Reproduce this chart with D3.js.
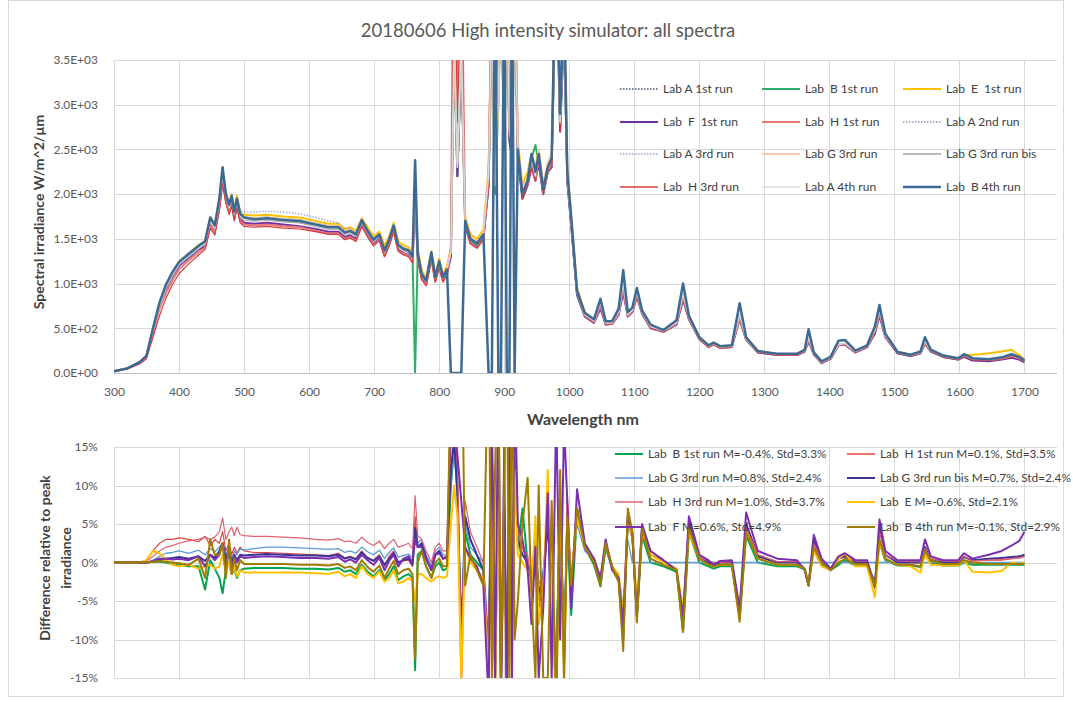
<!DOCTYPE html>
<html>
<head>
<meta charset="utf-8">
<script src="https://cdn.jsdelivr.net/npm/d3@7"></script>
<style>
  body { margin: 0; background: #fff; }
  text { font-family: Lato, "Open Sans", sans-serif; }
</style>
</head>
<body>
<div id="chart-container"></div>
<script>
// wavelength grid (nm), shared by every series
const wavelengths = [
  300,320,340,350,360,370,380,390,400,415,430,440,448,455,
  462,467,472,477,481,485,489,494,500,
  515,535,560,585,610,630,645,655,
  663,672,681,690,699,708,716,723,730,737,745,753,759,
  763,767,773,780,788,794,800,806,812,
  818,823,828,834,840,848,858,868,876,881,886,891,895,900,904,908,912,916,921,928,936,942,948,953,960,967,973,980,986,992,997,
  1003,1012,1024,1038,1048,1056,1066,1076,1083,1090,1097,1104,1112,1125,1145,1165,1175,1184,1200,1214,1222,1232,1250,
  1262,1272,1290,1320,1350,1362,1368,1376,1388,1402,1414,1424,1440,1458,1470,1477,1486,1505,1525,1540,1547,1556,1575,1598,1607,1620,1645,1665,1680,1692,1700
];

// spectral irradiance, W/m^2/um
const labA1st = [
  20,50,120,190,480,760,960,1100,1220,1310,1400,1450,1700,1620,
  1900,2230,1980,1850,1960,1780,1930,1760,1720,
  1710,1720,1700,1690,1650,1620,1620,1560,
  1580,1540,1700,1580,1480,1540,1360,1480,1640,1420,1380,1360,1290,
  2050,1330,1100,1020,1330,1060,1230,1060,1150,
  1350,3900,2300,3800,1700,1500,1450,1550,2200,4200,2100,3200,4500,2600,4200,2700,2500,4300,2500,2000,2150,2400,2200,2450,2050,2300,2400,4800,2800,4000,2200,
  1700,900,650,580,780,560,560,680,1000,650,700,900,680,520,470,560,880,620,390,300,330,290,300,
  650,380,240,210,210,250,390,220,120,170,320,330,240,300,480,700,420,230,200,230,350,250,190,160,200,160,150,170,210,180,140
];
const labB1st = [
  20,50,120,190,490,770,970,1110,1230,1320,1410,1460,1720,1630,
  1920,2250,2000,1870,1980,1800,1950,1780,1740,
  1730,1740,1720,1710,1670,1640,1640,1580,
  1600,1560,1710,1600,1500,1560,1380,1500,1650,1440,1400,1380,1300,
  0,1340,1110,1030,1340,1070,1240,1070,1160,
  1360,3600,2200,3500,1650,1480,1430,1520,2100,3800,2000,3000,4200,2500,3900,2600,2400,4000,2400,1950,2100,2400,2550,2350,2000,2250,2350,4500,2700,3800,2150,
  1650,880,640,570,770,550,550,670,980,640,690,880,670,510,460,550,860,610,380,290,320,280,290,
  630,370,230,200,200,240,380,210,110,160,310,320,230,290,470,690,410,220,190,220,340,240,180,150,190,150,140,160,200,170,130
];
const labE1st = [
  20,50,120,190,480,770,980,1120,1250,1340,1430,1480,1740,1660,
  1950,2250,2020,1900,2000,1830,1980,1800,1770,
  1760,1770,1750,1740,1700,1670,1670,1610,
  1630,1590,1730,1630,1530,1580,1420,1530,1680,1470,1430,1410,1340,
  2000,1400,1150,1060,1360,1100,1280,1100,1200,
  1400,3700,2400,3600,1750,1550,1500,1600,2300,4000,2200,3100,4300,2700,4000,2800,2600,4100,2600,2100,2250,2450,2300,2500,2100,2350,2450,4600,2900,3900,2300,
  1750,950,680,590,760,570,570,680,950,660,700,860,690,530,480,560,850,630,400,310,330,300,300,
  620,390,250,210,215,250,370,230,130,175,320,330,245,300,460,660,430,235,205,225,330,255,195,165,200,200,220,240,260,200,150
];
const labF1st = [
  20,50,115,185,470,740,940,1080,1200,1290,1380,1420,1660,1580,
  1850,2150,1930,1800,1900,1730,1880,1720,1680,
  1670,1680,1660,1640,1610,1580,1580,1520,
  1540,1500,1660,1540,1440,1500,1320,1440,1600,1380,1340,1320,1250,
  1950,1300,1060,990,1290,1030,1190,1030,1110,
  1300,3800,2200,3600,1650,1450,1400,1500,2100,4400,2200,4000,4800,2500,4500,2600,2400,4400,2400,1950,2100,2300,2150,2350,2000,2250,2300,4700,2700,3900,2150,
  1650,870,630,560,720,540,550,650,900,630,680,850,660,500,460,540,820,600,380,290,320,280,290,
  600,370,230,200,200,240,350,210,110,160,310,320,230,290,440,640,400,220,190,220,330,240,180,150,180,140,130,150,170,150,120
];
const labH1st = [
  20,50,110,180,450,720,900,1040,1160,1260,1350,1400,1650,1570,
  1850,2180,1930,1790,1900,1720,1870,1700,1660,
  1650,1660,1640,1630,1590,1560,1560,1500,
  1520,1480,1650,1530,1430,1490,1310,1430,1590,1370,1330,1310,1240,
  1950,1290,1050,980,1280,1020,1180,1020,1100,
  1400,6000,3000,5000,1700,1450,1400,1500,2150,4500,2200,3500,4800,2600,4500,2700,2500,4600,2500,2000,2100,2350,2150,2400,2000,2250,2350,5000,2800,4200,2200,
  1700,900,640,570,750,550,550,660,950,640,690,870,670,510,460,550,850,610,380,290,320,280,290,
  620,375,235,205,205,245,370,215,115,165,315,325,235,295,460,670,410,225,195,225,340,245,185,155,195,155,145,160,190,165,130
];
const labA2nd = [
  20,50,120,190,485,765,965,1105,1225,1315,1405,1455,1710,1630,
  1910,2240,1990,1860,1970,1790,1940,1770,1730,
  1730,1740,1720,1710,1670,1640,1640,1580,
  1600,1560,1710,1590,1490,1550,1370,1490,1640,1430,1390,1370,1300,
  2050,1340,1110,1030,1330,1070,1230,1070,1160,
  1350,3900,2300,3800,1700,1500,1450,1550,2200,4200,2100,3200,4500,2600,4200,2700,2500,4300,2500,2000,2150,2400,2200,2450,2050,2300,2400,4800,2800,4000,2200,
  1700,900,650,580,780,560,560,680,1000,650,700,900,680,520,470,560,880,620,390,300,330,290,300,
  650,380,240,210,210,250,390,220,120,170,320,330,240,300,480,700,420,230,200,230,350,250,190,160,200,160,150,170,210,180,140
];
const labA3rd = [
  20,50,125,195,490,780,990,1140,1260,1350,1430,1480,1720,1650,
  1920,2240,2000,1880,1990,1840,1960,1820,1800,
  1800,1810,1800,1780,1740,1700,1680,1610,
  1620,1570,1710,1600,1500,1550,1380,1490,1640,1430,1390,1370,1300,
  2050,1340,1110,1030,1330,1070,1230,1070,1160,
  1350,3900,2300,3800,1700,1500,1450,1550,2200,4200,2100,3200,4500,2600,4200,2700,2500,4300,2500,2000,2150,2400,2200,2450,2050,2300,2400,4800,2800,4000,2200,
  1700,900,650,580,780,560,560,680,1000,650,700,900,680,520,470,560,880,620,390,300,330,290,300,
  650,380,240,210,210,250,390,220,120,170,320,330,240,300,480,700,420,230,200,230,350,250,190,160,200,160,150,170,210,180,140
];
const labG3rd = [
  20,50,125,195,490,775,975,1120,1240,1330,1420,1470,1720,1640,
  1920,2250,2000,1870,1980,1800,1950,1780,1740,
  1730,1740,1720,1710,1670,1640,1640,1580,
  1600,1560,1720,1600,1500,1560,1380,1500,1660,1440,1400,1380,1310,
  2100,1350,1120,1040,1350,1080,1250,1080,1170,
  1370,3700,2350,3600,1720,1520,1470,1570,2250,4000,2150,3100,4300,2650,4000,2750,2550,4100,2550,2050,2200,2450,2250,2500,2100,2350,2450,4600,2850,3900,2250,
  1720,920,660,590,790,570,570,690,1010,660,710,910,690,530,480,570,890,630,395,305,335,295,305,
  650,380,240,210,210,250,390,220,120,170,320,330,240,300,480,700,420,230,200,230,350,250,190,160,200,160,150,170,210,180,140
];
const labG3rdBis = [
  20,50,115,185,475,750,950,1090,1210,1300,1390,1440,1690,1610,
  1890,2220,1970,1840,1950,1770,1920,1750,1710,
  1700,1710,1690,1680,1640,1610,1610,1550,
  1570,1530,1690,1570,1470,1530,1350,1470,1630,1410,1370,1350,1280,
  2000,1320,1090,1010,1320,1050,1220,1050,1140,
  1350,3900,2300,3800,1700,1500,1450,1550,2200,4200,2100,3200,4500,2600,4200,2700,2500,4300,2500,2000,2150,2400,2200,2450,2050,2300,2400,4800,2800,4000,2200,
  1700,900,650,580,780,560,560,680,1000,650,700,900,680,520,470,560,880,620,390,300,330,290,300,
  650,380,240,210,210,250,390,220,120,170,320,330,240,300,480,700,420,230,200,230,350,250,190,160,200,160,150,170,210,180,140
];
const labH3rd = [
  20,45,105,160,400,640,840,990,1110,1220,1320,1380,1620,1540,
  1820,2120,1900,1770,1870,1700,1850,1680,1640,
  1630,1640,1620,1610,1580,1550,1550,1490,
  1510,1470,1640,1520,1420,1480,1300,1420,1580,1360,1320,1300,1230,
  1950,1290,1050,980,1280,1020,1180,1020,1100,
  1350,5000,2800,4500,1650,1450,1400,1500,2100,4300,2100,3300,4600,2500,4300,2600,2450,4400,2450,1950,2100,2300,2150,2400,2000,2250,2300,4800,2700,4000,2150,
  1690,890,640,570,760,550,550,670,980,640,690,880,670,510,460,550,860,610,380,290,320,280,290,
  630,370,230,200,200,240,370,210,110,160,310,320,230,290,460,680,410,220,190,220,340,240,180,150,190,150,140,160,200,170,130
];
const labA4th = [
  20,50,120,190,480,760,960,1100,1220,1310,1400,1450,1700,1620,
  1900,2230,1980,1850,1960,1780,1930,1760,1720,
  1710,1720,1700,1690,1650,1620,1620,1560,
  1580,1540,1700,1580,1480,1540,1360,1480,1640,1420,1380,1360,1290,
  2050,1330,1100,1020,1330,1060,1230,1060,1150,
  1350,3900,2300,3800,1700,1500,1450,1550,2200,4200,2100,3200,4500,2600,4200,2700,2500,4300,2500,2000,2150,2400,2200,2450,2050,2300,2400,4800,2800,4000,2200,
  1700,900,650,580,780,560,560,680,1000,650,700,900,680,520,470,560,880,620,390,300,330,290,300,
  650,380,240,210,210,250,390,220,120,170,320,330,240,300,480,700,420,230,200,230,350,250,190,160,200,160,150,170,210,180,140
];
const labB4th = [
  20,50,125,195,500,790,990,1130,1240,1330,1420,1470,1740,1650,
  1950,2300,2000,1880,1980,1800,1950,1780,1740,
  1720,1730,1710,1700,1660,1630,1630,1570,
  1590,1550,1710,1590,1490,1550,1370,1490,1650,1430,1390,1370,1300,
  2380,1340,1110,1030,1350,1070,1250,1070,1160,
  0,0,0,0,1700,1500,1450,1550,0,0,4500,0,0,4500,0,0,4500,0,2500,2000,2150,2450,2250,2450,2050,2300,2400,5000,2900,4200,2250,
  1750,920,670,600,830,580,580,720,1150,680,730,950,700,540,480,590,1000,640,400,310,340,300,310,
  780,400,245,215,215,260,490,230,130,180,360,370,250,310,520,760,440,235,205,240,400,260,195,165,210,165,155,175,210,180,140
];

// difference relative to peak irradiance, %
const diffLabB1st = [
  0,0,0,0,0.1,0.1,0,-0.2,-0.3,-0.5,-0.5,-3.5,0.3,-0.8,
  -2,-4,-1,0,-1.5,-0.8,-2,-1,-0.8,
  -0.7,-0.7,-0.7,-0.8,-0.8,-0.9,-0.7,-1.2,
  -1,-1.5,-0.3,-1.2,-1.8,-1,-2.3,-1.5,-0.5,-2.3,-1.8,-1.5,-2,
  -14,1,1.5,-0.5,-2,-0.5,0,-1,-0.8,
  10,15,10,-10,4,1,0,-1,-14,12,-14,10,-14,6,-14,9,-7,14,2,7,0,-3,3,-5,-2,6,-3,-14,8,-12,5,
  -6.8,6.5,2,-0.3,-3.1,2,-0.8,-2.5,-10,5.5,3.5,-7,3.5,0,-0.5,-1.2,-9,4,0,-0.5,-0.8,-0.5,-0.5,
  -7,3.5,0,-0.5,-0.5,-0.9,-2.8,2,-0.3,-1,-0.3,0.3,-0.4,-0.4,-2.5,2.5,0.3,-0.4,-0.4,-0.6,1,0,-0.4,-0.4,0,-0.3,-0.3,-0.3,-0.3,-0.3,-0.3
];
const diffLabH1st = [
  0,0,0,0.3,1.5,2.5,3,3,3.2,3,2.7,3.4,2.2,3,
  2.5,4,1.5,2.5,1,2,1.2,2,1.5,
  1.3,1.3,1.2,1.1,1,0.9,1.2,0.6,
  0.8,0.5,1.5,0.5,0.3,1,-0.5,0.8,1.5,0,0.2,0.3,-0.5,
  6,2,2,0.5,-1,1,1.5,0.5,0.5,
  15,20,12,-18,6,3,1,-1,-16,18,-20,14,-18,8,-20,12,-10,18,3,2,0,-4,4,-6,-3,6,-4,-20,10,-16,8,
  -2.6,7,2,0.3,-2,2.5,-0.5,-2,-8,5.5,3.5,-6.5,4.5,1,0.2,-0.8,-7,5,0.8,0.2,0,0,0.1,
  -6.5,5,1,0.1,0.1,-0.8,-2.5,3,0.3,-0.8,0.5,1,0.2,0.2,-3,4.5,1,0.2,0.1,0.1,2,0.5,0.2,0.1,0.8,0.2,0.3,0.3,0.5,0.6,0.8
];
const diffLabG3rd = [
  0,0,0,0,0.3,0.8,1.2,1.3,1.5,1.2,1.6,1,1.8,1.4,
  2,2.5,1,2,0.5,1.5,1,1.8,1.6,
  1.8,2,2,1.9,1.8,1.7,1.8,1.3,
  1.5,1.2,2,1.4,1,1.6,0.5,1.3,1.9,0.7,0.9,1.1,0.6,
  4,2.5,3,1,-0.5,1.5,2,1,1,
  10,15,8,-8,5,2,1,0,-10,12,-12,10,-12,6,-12,8,-6,12,2,1,0,-2,3,-3,-1,4,-2,-12,7,-10,5,
  -2,5,1.5,0.3,-2,2,-0.5,-1.5,-6,3,0,0,0,0,0,0,0,0,0,0,0,0,0,
  0,0,0,0,0,0,0,0,0,0,0,0,0,0,0,0,0,0,0,0,0,0,0,0,0,0,0,0,0,0,0
];
const diffLabG3rdBis = [
  0,0,0,0,0.1,0.3,0.5,0.6,0.7,0.5,0.8,0.2,1,0.6,
  1.5,2.5,0.5,1.5,0,1,0.3,1,0.9,
  1,1.1,1,0.9,0.9,0.8,1,0.5,
  0.7,0.4,1.3,0.6,0.2,0.8,-0.3,0.5,1.2,0,0.3,0.5,-0.3,
  4.5,2,2.5,0.5,-1,1,1.5,0.5,0.8,
  12,16,9,-10,6,3,1,-1,-12,15,-15,12,-15,7,-15,10,-8,15,3,1,0,-3,3,-4,-2,5,-3,-15,8,-12,6,
  -3,7,2,0.3,-2.5,2.5,-0.5,-2,-8.5,5.5,3.5,-6.5,4.5,1,0.2,-1,-7.5,5,0.5,0,-0.3,0,0,
  -7,5,0.8,0,0,-0.8,-3,3,0.2,-0.8,0.5,0.8,0,0,-3.3,4.5,1,0,0,0,2,0.3,0,0,0.7,0.3,0.5,0.6,0.7,0.8,1
];
const diffLabH3rd = [
  0,0,0,0.2,0.8,1.5,2,2.2,2.5,2.8,3,3.3,3,3.3,
  4,5.8,3,4,4.6,3.5,4.6,3.6,3.5,
  3.4,3.4,3.3,3.2,3,2.9,3.1,2.7,
  2.8,2.5,3.3,2.6,2.2,2.8,1.8,2.5,3,2,2.2,2.5,1.8,
  8.7,3.5,3,1.5,0,2,2.5,1.5,1.5,
  18,20,14,-12,8,4,2,0,-12,20,-18,16,-16,10,-18,14,-8,20,4,2,1,-3,5,-5,-2,7,-3,-18,12,-14,9,
  -3,6.5,2,0.3,-2,2.5,-0.5,-1.8,-7,5,3,-6,4,1,0.2,-0.8,-6.5,4.5,0.8,0.2,0,0,0.1,
  -6,4.5,1,0.1,0.1,-0.8,-2.5,2.5,0.3,-0.8,0.5,1,0.2,0.2,-3,4,1,0.2,0.1,0.1,1.8,0.5,0.2,0.1,0.8,0.2,0.3,0.4,0.5,0.6,0.8
];
const diffLabE = [
  0,0,0,0.3,1.5,1.2,0.3,-0.3,-0.5,-0.3,-0.8,-0.5,-0.3,-0.8,
  -0.5,1,-1,0,-1.5,-0.5,-1.8,-1,-1.3,
  -1.3,-1.3,-1.3,-1.3,-1.4,-1.5,-1.2,-1.8,
  -1.5,-2,-0.5,-1.5,-2,-1.2,-2.5,-2,-1,-2.7,-2.5,-2,-2.5,
  -5,-1.5,-1.5,-2,-2.5,-2,-1.8,-2,-1.8,
  5,10,6,-15,2,0,-1,-2,-15,10,-18,8,-16,4,-18,6,-10,12,1,0,-1,-4,6,-8,-4,12,-6,-18,8,-14,5,
  -2,6,2,0.5,-2,2.5,-0.5,-1.5,-7,5.5,3.5,-5,4,1,0,-0.8,-6,4,0.5,-0.3,-0.5,-0.3,-0.3,
  -6,4,0.5,-0.3,-0.3,-0.8,-2.5,1.5,-0.5,-1,0.5,1.2,-0.5,-0.5,-4.5,2.5,0.5,-0.3,-0.5,-1.3,1,-0.3,-0.4,-0.4,0.3,-1.2,-1.3,-1.1,0,-0.2,0
];
const diffLabF = [
  0,0,0,0,0.2,0.5,0.5,0.4,0.5,0.3,0.8,-0.5,1,0.3,
  1,2.5,-0.5,1.5,-1,0.8,0,0.8,0.6,
  0.7,0.8,0.7,0.6,0.6,0.5,0.7,0.1,
  0.4,0,1,0.3,-0.3,0.6,-1,0.2,1,-0.5,0.5,0.8,0,
  3,2,2,0.5,-1,1,1.2,0.5,0.8,
  20,18,14,8,2,0.5,-0.5,-3,-18,20,-15,25,-20,15,-22,18,-15,25,5,3,-1,-8,2,-15,-6,9,-15,20,-10,18,8,
  -6,9.5,2.5,0.5,-2,3,-1,-2,-8,6,4,-7,5,1.5,0.3,-1,-7,6,1,0.3,-0.3,0.2,0.3,
  -6,6.5,1.5,0.5,0.3,-1,-3,3.6,0.5,-0.8,0.8,1.2,0.3,0.3,-3,5.6,1.5,0.3,0.3,0.3,3,0.8,0.3,0.3,1.2,0.5,1,1.5,2.2,2.8,4
];
const diffLabB4th = [
  0,0,0,0,0.1,0.2,0.1,0,-0.1,-0.3,0.5,-2,3,1,
  1,2.5,-2,3,-1.5,0.5,-1,0.3,-0.2,
  -0.2,-0.2,-0.2,-0.3,-0.3,-0.4,-0.2,-0.7,
  -0.5,-1,0.3,-0.6,-1.2,-0.4,-2,-0.8,0.2,-1.5,-1,-0.8,-1.5,
  -12.5,0,1.5,-0.5,-2,0,0.5,-0.5,-0.5,
  25,30,15,35,-3,1,-1,-3,30,-15,12,30,-15,10,30,-16,30,-10,-5,5,11,-4,-15,10,-15,-15,8,-20,12,-16,6,
  -3,7,2,0,-3,2.5,-0.5,-2.5,-11.5,7,4,-7.8,4.5,0.5,-0.3,-1,-9,4.5,0.5,-0.3,-0.5,-0.3,-0.3,
  -7.7,4,0.5,-0.3,-0.3,-0.8,-3,2,0,-1,0,0.5,-0.2,-0.2,-3,3,0.5,-0.3,-0.3,-0.5,1.5,0.3,-0.2,-0.2,0.3,0,-0.2,-0.2,-0.2,-0.2,-0.2
];

const wavelengthTicks = [300,400,500,600,700,800,900,1000,1100,1200,1300,1400,1500,1600,1700];
const irradianceTicks = [0,500,1000,1500,2000,2500,3000,3500];
const diffTicks = [-15,-10,-5,0,5,10,15];

const spectraSeries = [
  { label: 'Lab A 1st run', values: labA1st, color: '#44546a', width: 1.3, dash: '1.5,1.5' },
  { label: 'Lab  B 1st run', values: labB1st, color: '#2ead6b', width: 2 },
  { label: 'Lab  E  1st run', values: labE1st, color: '#ffc000', width: 2 },
  { label: 'Lab  F  1st run', values: labF1st, color: '#7030a0', width: 2 },
  { label: 'Lab  H 1st run', values: labH1st, color: '#e57a7a', width: 2 },
  { label: 'Lab A 2nd run', values: labA2nd, color: '#8497b0', width: 1.3, dash: '1.5,1.5' },
  { label: 'Lab A 3rd run', values: labA3rd, color: '#9c9ce0', width: 1.3, dash: '1.5,1.5' },
  { label: 'Lab G 3rd run', values: labG3rd, color: '#f8cbad', width: 2 },
  { label: 'Lab G 3rd run bis', values: labG3rdBis, color: '#a5a5a5', width: 1.5 },
  { label: 'Lab  H 3rd run', values: labH3rd, color: '#d43f3f', width: 1.2 },
  { label: 'Lab A 4th run', values: labA4th, color: '#d9d9d9', width: 1.5 },
  { label: 'Lab  B 4th run', values: labB4th, color: '#3c6a93', width: 2.5 },
];

const diffSeries = [
  { label: 'Lab  B 1st run M=-0.4%, Std=3.3%', values: diffLabB1st, color: '#00a550', width: 2 },
  { label: 'Lab  H 1st run M=0.1%, Std=3.5%', values: diffLabH1st, color: '#e8423f', width: 1.2 },
  { label: 'Lab G 3rd run M=0.8%, Std=2.4%', values: diffLabG3rd, color: '#5b9bd5', width: 1.3 },
  { label: 'Lab G 3rd run bis M=0.7%, Std=2.4%', values: diffLabG3rdBis, color: '#3a3496', width: 2 },
  { label: 'Lab  H 3rd run M=1.0%, Std=3.7%', values: diffLabH3rd, color: '#e06070', width: 1.2 },
  { label: 'Lab  E M=-0.6%, Std=2.1%', values: diffLabE, color: '#ffc000', width: 2 },
  { label: 'Lab  F M=0.6%, Std=4.9%', values: diffLabF, color: '#7a2fb0', width: 2 },
  { label: 'Lab  B 4th run M=-0.1%, Std=2.9%', values: diffLabB4th, color: '#a07c00', width: 2 },
];

const width = 1073;
const height = 702;
const plotLeft = 114;
const plotRight = 1057;
const top1 = 60, bottom1 = 373;
const top2 = 447, bottom2 = 678;
const textColor = '#595959';
const gridColor = '#d9d9d9';

const svg = d3.select('#chart-container')
  .append('svg')
  .attr('width', width)
  .attr('height', height);

// outer chart frame
svg.append('rect')
  .attr('x', 8.5).attr('y', 0.5)
  .attr('width', 1055).attr('height', 696)
  .attr('fill', 'none')
  .attr('stroke', gridColor);

svg.append('text')
  .attr('x', 548).attr('y', 37)
  .attr('text-anchor', 'middle')
  .style('font-size', '18.5px')
  .style('fill', textColor)
  .text('20180606 High intensity simulator: all spectra');

const x = d3.scaleLinear().domain([300, 1750]).range([plotLeft, plotRight]);
const y1 = d3.scaleLinear().domain([0, 3500]).range([bottom1, top1]);
const y2 = d3.scaleLinear().domain([-15, 15]).range([bottom2, top2]);

const expFormat = (v) => {
  const [m, e] = v.toExponential(1).split('e');
  const n = Math.abs(+e);
  return `${m}E${+e < 0 ? '-' : '+'}${n < 10 ? '0' + n : n}`;
};

function drawPanel(yScale, yTicks, yFormat, yTop, yBottom, series, clipId) {
  const g = svg.append('g');

  // gridlines
  g.append('g')
    .selectAll('line')
    .data(yTicks)
    .enter()
    .append('line')
    .attr('x1', plotLeft).attr('x2', plotRight)
    .attr('y1', (d) => Math.round(yScale(d)) + 0.5)
    .attr('y2', (d) => Math.round(yScale(d)) + 0.5)
    .attr('stroke', gridColor);

  g.append('g')
    .selectAll('line')
    .data(wavelengthTicks)
    .enter()
    .append('line')
    .attr('x1', (d) => Math.round(x(d)) + 0.5)
    .attr('x2', (d) => Math.round(x(d)) + 0.5)
    .attr('y1', yTop).attr('y2', yBottom)
    .attr('stroke', gridColor);

  // y axis labels
  const yAxis = g.append('g')
    .attr('transform', `translate(${plotLeft - 13},0)`)
    .call(d3.axisLeft(yScale).tickValues(yTicks).tickFormat(yFormat).tickSize(0));
  yAxis.select('.domain').remove();
  yAxis.selectAll('text')
    .style('font-size', '12px')
    .style('font-family', 'Lato, "Open Sans", sans-serif')
    .style('fill', textColor);

  svg.append('clipPath')
    .attr('id', clipId)
    .append('rect')
    .attr('x', plotLeft).attr('y', yTop)
    .attr('width', plotRight - plotLeft).attr('height', yBottom - yTop);

  const line = d3.line()
    .x((_, i) => x(wavelengths[i]))
    .y((d) => yScale(d));

  g.append('g')
    .attr('clip-path', `url(#${clipId})`)
    .selectAll('path')
    .data(series)
    .enter()
    .append('path')
    .attr('d', (d) => line(d.values))
    .attr('fill', 'none')
    .attr('stroke', (d) => d.color)
    .attr('stroke-width', (d) => d.width)
    .attr('stroke-dasharray', (d) => d.dash || null)
    .attr('stroke-linejoin', 'round');
}

drawPanel(y1, irradianceTicks, expFormat, top1, bottom1, spectraSeries, 'clip-top');
drawPanel(y2, diffTicks, (d) => `${d}%`, top2, bottom2, diffSeries, 'clip-bottom');

// x axis of the spectra panel
svg.append('line')
  .attr('x1', plotLeft).attr('x2', plotRight)
  .attr('y1', bottom1 + 0.5).attr('y2', bottom1 + 0.5)
  .attr('stroke', '#bfbfbf');

const xAxis = svg.append('g')
  .attr('transform', `translate(0,${bottom1 + 11})`)
  .call(d3.axisBottom(x).tickValues(wavelengthTicks).tickFormat(d3.format('d')).tickSize(0));
xAxis.select('.domain').remove();
xAxis.selectAll('text')
  .style('font-size', '12px')
  .style('font-family', 'Lato, "Open Sans", sans-serif')
  .style('fill', textColor);

svg.append('text')
  .attr('x', 583).attr('y', 425)
  .attr('text-anchor', 'middle')
  .style('font-size', '16px')
  .style('font-weight', 'bold')
  .style('fill', '#404040')
  .text('Wavelength nm');

svg.append('text')
  .attr('transform', 'translate(44,212) rotate(-90)')
  .attr('text-anchor', 'middle')
  .style('font-size', '14px')
  .style('font-weight', 'bold')
  .style('fill', '#404040')
  .text('Spectral irradiance W/m^2/\u00b5m');

const diffTitle = svg.append('text')
  .attr('transform', 'translate(50,558) rotate(-90)')
  .attr('text-anchor', 'middle')
  .style('font-size', '14px')
  .style('font-weight', 'bold')
  .style('fill', '#404040');
diffTitle.append('tspan').attr('x', 0).attr('dy', 0).text('Difference relative to peak');
diffTitle.append('tspan').attr('x', 0).attr('dy', 21).text('irradiance');

// legends
function drawLegend(series, cols, colX, rowY, lineLen, fontSize) {
  const item = svg.append('g')
    .selectAll('g')
    .data(series)
    .enter()
    .append('g')
    .attr('transform', (_, i) => `translate(${colX[i % cols]},${rowY[Math.floor(i / cols)]})`);

  item.append('line')
    .attr('x1', 0).attr('x2', lineLen)
    .attr('stroke', (d) => d.color)
    .attr('stroke-width', (d) => Math.max(d.width, 1.5))
    .attr('stroke-dasharray', (d) => d.dash || null);

  item.append('text')
    .attr('x', lineLen + 5)
    .attr('dy', '0.35em')
    .style('font-size', fontSize)
    .style('white-space', 'pre')
    .style('fill', '#404040')
    .text((d) => d.label);
}

drawLegend(spectraSeries, 3, [620, 762, 903], [89, 122, 154, 187], 38, '12px');
drawLegend(diffSeries, 2, [615, 847], [454, 478, 502, 527], 28, '11.8px');
</script>
</body>
</html>
